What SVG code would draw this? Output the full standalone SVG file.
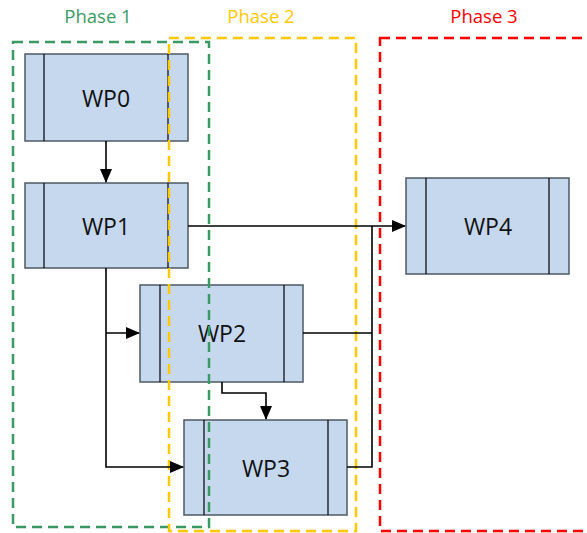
<svg xmlns="http://www.w3.org/2000/svg" width="587" height="533" viewBox="0 0 587 533">
<style>
.box{fill:#c5d8ee;stroke:#4d5a66;stroke-width:1.5}
.in{stroke:#000;stroke-width:1.2}
.lbl{font-family:"Open Sans","Liberation Sans",sans-serif;font-size:23px;fill:#111;text-anchor:middle;dominant-baseline:central}
.ph{font-family:"Open Sans","Liberation Sans",sans-serif;font-size:18.5px;text-anchor:middle}
.phase{fill:none;stroke-width:2.5;stroke-dasharray:10 6}
.c{fill:none;stroke:#000;stroke-width:1.6}
</style>
<defs>
<marker id="ah" markerWidth="14" markerHeight="14" refX="13" refY="7" orient="auto" markerUnits="userSpaceOnUse" viewBox="0 0 14 14">
<path d="M0,1 L14,7 L0,13 z" fill="#000"/>
</marker>
</defs>
<g id="WP0"><rect class="box" x="25" y="54" width="163" height="87"/><line class="in" x1="44" y1="54" x2="44" y2="141"/><line class="in" x1="168" y1="54" x2="168" y2="141"/><text class="lbl" x="106" y="98">WP0</text></g>
<g id="WP1"><rect class="box" x="25" y="183" width="163" height="85"/><line class="in" x1="44" y1="183" x2="44" y2="268"/><line class="in" x1="168" y1="183" x2="168" y2="268"/><text class="lbl" x="106" y="226">WP1</text></g>
<g id="WP2"><rect class="box" x="140" y="285" width="163" height="97"/><line class="in" x1="160" y1="285" x2="160" y2="382"/><line class="in" x1="284" y1="285" x2="284" y2="382"/><text class="lbl" x="222" y="333">WP2</text></g>
<g id="WP3"><rect class="box" x="184" y="420" width="163" height="95"/><line class="in" x1="204" y1="420" x2="204" y2="515"/><line class="in" x1="328" y1="420" x2="328" y2="515"/><text class="lbl" x="266" y="468">WP3</text></g>
<g id="WP4"><rect class="box" x="406" y="178" width="163" height="96"/><line class="in" x1="426" y1="178" x2="426" y2="274"/><line class="in" x1="549" y1="178" x2="549" y2="274"/><text class="lbl" x="488" y="226">WP4</text></g>
<g id="phases">
<g id="phase1"><rect class="phase" stroke="#3a9a64" x="13" y="42" width="196" height="485"/><text class="ph" fill="#3a9a64" x="98" y="23">Phase 1</text></g>
<g id="phase2"><rect class="phase" stroke="#ffc800" x="169" y="38" width="187" height="493"/><text class="ph" fill="#ffc800" x="261" y="23">Phase 2</text></g>
<g id="phase3"><rect class="phase" stroke="#ff0000" x="380" y="38" width="215" height="493"/><text class="ph" fill="#ff0000" x="484" y="23">Phase 3</text></g>
</g>
<g id="connectors">
<line class="c" x1="106" y1="141" x2="106" y2="182" marker-end="url(#ah)"/>
<line class="c" x1="188" y1="226" x2="405" y2="226" marker-end="url(#ah)"/>
<polyline class="c" points="106,268 106,467 183,467" marker-end="url(#ah)"/>
<polyline class="c" points="106,333 139,333" marker-end="url(#ah)"/>
<polyline class="c" points="303,333 372,333"/>
<polyline class="c" points="347,467 372,467 372,226"/>
<polyline class="c" points="222,382 222,393 266,393 266,419" marker-end="url(#ah)"/>
</g>
</svg>
